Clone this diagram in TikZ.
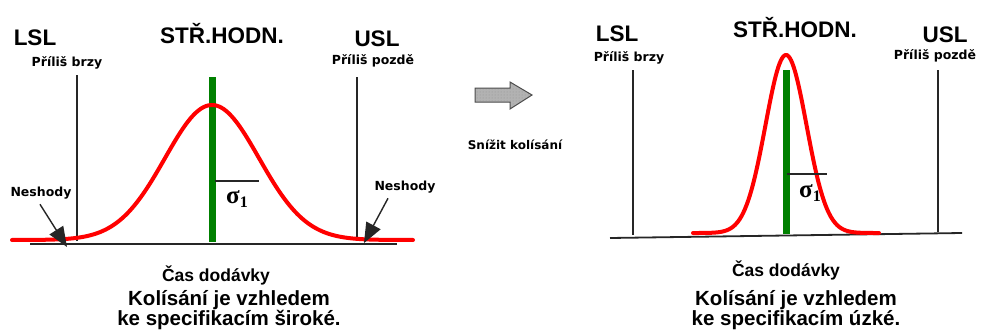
\documentclass[tikz,border=0pt]{standalone}
\usepackage{fontspec}
\setmainfont{Liberation Sans}
\newfontfamily\labelfont{DejaVu Sans}
\newfontfamily\sigmafont{Liberation Serif}
\usetikzlibrary{arrows.meta,patterns}
\newcommand{\sigmaone}{\sigmafont\bfseries σ\raisebox{-0.35ex}{\fontsize{16}{18}\selectfont 1}}
\begin{document}
\begin{tikzpicture}[x=1pt,y=-1pt,
  bigtitle/.style={font=\fontsize{22.5}{24}\selectfont\bfseries, inner sep=0pt},
  smalllabel/.style={font=\labelfont\fontsize{12.5}{14}\selectfont\bfseries, inner sep=0pt},
  axislabel/.style={font=\fontsize{17.5}{19}\selectfont\bfseries, inner sep=0pt},
  caption/.style={font=\fontsize{20.5}{20}\selectfont\bfseries, inner sep=0pt, align=center},
  sigmalabel/.style={font=\fontsize{25}{27}\selectfont, inner sep=0pt},
  speclimit/.style={line width=1.6pt, draw=black!85},
  baseline/.style={line width=1.8pt, draw=black!85},
  target/.style={line width=7pt, draw=green!50!black},
  curve/.style={line width=4pt, draw=red, line cap=round, line join=round},
  sigmabar/.style={line width=1.6pt, draw=black!85},
  pointer/.style={line width=1.4pt, draw=black!85, -{Triangle[length=20pt,width=16pt]}},
  blockarrow/.style={fill=gray!60, draw=gray!60!black, line width=1pt}
]
\useasboundingbox (0,0) rectangle (982,332);
\fill[white] (0,0) rectangle (982,332);

% ---------------- wide distribution ----------------
\coordinate (aL0) at (30,244);  \coordinate (aL1) at (397,244);
\coordinate (lslA0) at (77,75);  \coordinate (lslA1) at (77,241);
\coordinate (uslA0) at (357,77); \coordinate (uslA1) at (357,241);
\coordinate (tgA0) at (212,77);  \coordinate (tgA1) at (212,242);
\coordinate (sgA0) at (215,181); \coordinate (sgA1) at (259,181);

\draw[baseline] (aL0) -- (aL1);
\draw[speclimit] (lslA0) -- (lslA1);
\draw[speclimit] (uslA0) -- (uslA1);
\draw[target] (tgA0) -- (tgA1);
\draw[curve] plot[domain=12:413, samples=160, smooth] (\x, {240-135*exp(-((\x-212)/47)^2/2)});
\draw[sigmabar] (sgA0) -- (sgA1);

\node[bigtitle] (lslA) at (35,38) {LSL};
\node[bigtitle] (tgtA) at (222,34) {STŘ.HODN.};
\node[bigtitle] (uslA) at (377,39) {USL};
\node[smalllabel] (earlyA) at (67,63) {Příliš brzy};
\node[smalllabel] (lateA) at (373,61) {Příliš pozdě};
\node[sigmalabel] (sigA) at (237,199) {\sigmaone};
\node[smalllabel] (nokL) at (41,193) {Neshody};
\node[smalllabel] (nokR) at (405,187) {Neshody};
\coordinate (nokLtip) at (67,247);
\coordinate (nokRtip) at (364,243);
\draw[pointer] (nokL.south) ++(-1,5) -- (nokLtip);
\draw[pointer] (nokR.south) ++(-17,5) -- (nokRtip);
\node[axislabel] (timeA) at (216,275) {Čas dodávky};
\node[caption] (capA) at (229,310) {Kolísání je vzhledem\\ke specifikacím široké.};

% ---------------- reduce variation ----------------
\draw[blockarrow] (475,88) -- (510,88) -- (510,82) -- (532,95) -- (510,109) -- (510,102) -- (475,102) -- cycle;
\fill[pattern=dots, pattern color=gray!85] (476,89) -- (510,89) -- (510,84) -- (530,95) -- (510,107) -- (510,101) -- (476,101) -- cycle;
\node[smalllabel, font=\labelfont\fontsize{12}{14}\selectfont\bfseries] (reduce) at (515,145) {Snížit kolísání};

% ---------------- narrow distribution ----------------
\coordinate (aR0) at (610,238); \coordinate (aR1) at (962,233);
\coordinate (lslB0) at (633,70);  \coordinate (lslB1) at (633,235);
\coordinate (uslB0) at (938,70);  \coordinate (uslB1) at (938,232);
\coordinate (tgB0) at (786,70);   \coordinate (tgB1) at (786,234);
\coordinate (sgB0) at (787,174);  \coordinate (sgB1) at (827,174);

\draw[baseline] (aR0) -- (aR1);
\draw[speclimit] (lslB0) -- (lslB1);
\draw[speclimit] (uslB0) -- (uslB1);
\draw[target] (tgB0) -- (tgB1);
\draw[curve] plot[domain=693:879, samples=160, smooth] (\x, {233-178*exp(-((\x-786)/20.5)^2/2)});
\draw[sigmabar] (sgB0) -- (sgB1);

\node[bigtitle] (lslB) at (617,34) {LSL};
\node[bigtitle] (tgtB) at (795,28) {STŘ.HODN.};
\node[bigtitle] (uslB) at (945,35) {USL};
\node[smalllabel] (earlyB) at (629,58) {Příliš brzy};
\node[smalllabel] (lateB) at (935,56) {Příliš pozdě};
\node[sigmalabel] (sigB) at (810,193) {\sigmaone};
\node[axislabel] (timeB) at (786,270) {Čas dodávky};
\node[caption] (capB) at (796,310) {Kolísání je vzhledem\\ke specifikacím úzké.};
\end{tikzpicture}
\end{document}
